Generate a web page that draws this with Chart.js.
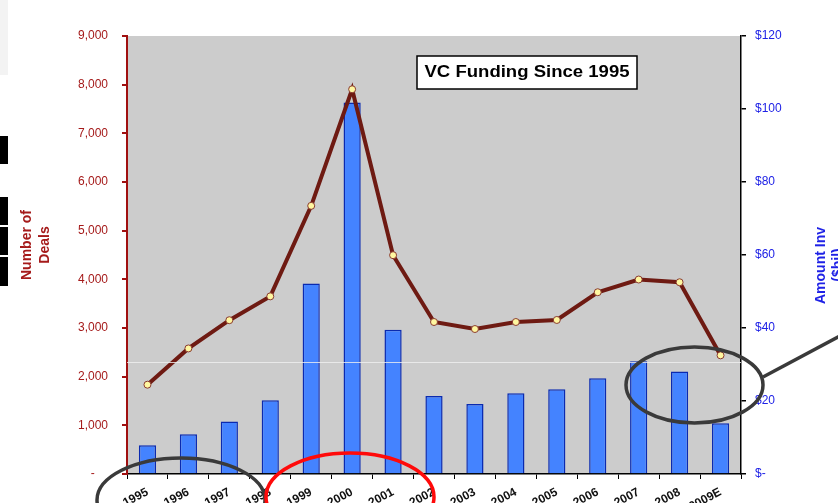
<!DOCTYPE html>
<html>
<head>
<meta charset="utf-8">
<script src="https://cdn.jsdelivr.net/npm/chart.js@4"></script>
<style>
html,body{margin:0;padding:0;background:#ffffff;}
#wrap{width:838px;height:503px;position:relative;}
</style>
</head>
<body>
<div id="wrap"><canvas id="c"></canvas></div>
<script>
// ---- data ----
const years = ['1995','1996','1997','1998','1999','2000','2001','2002','2003','2004','2005','2006','2007','2008','2009E'];
const dealCounts = [1835, 2580, 3160, 3650, 5510, 7905, 4496, 3123, 2979, 3123, 3165, 3735, 3996, 3940, 2438];
const amountInvested = [7.9, 10.9, 14.4, 20.2, 52.2, 101.8, 39.5, 21.4, 19.2, 22.1, 23.2, 26.2, 30.9, 28.1, 13.9];
const dealTickLabels = ['-    ','1,000','2,000','3,000','4,000','5,000','6,000','7,000','8,000','9,000'];
const amountTickLabels = ['$-','$20','$40','$60','$80','$100','$120'];
const chartTitle = 'VC Funding Since 1995';
const leftTitle = ['Number of','Deals'];
const rightTitle = ['Amount Inv','($bil)'];

const FONT = '"Liberation Sans", Arial, sans-serif';
const RED = '#a51a1a';
const BLUE = '#1f22e6';

const decor = {
  id: 'decor',
  beforeDraw(chart) {
    const {ctx, chartArea: a} = chart;
    ctx.save();
    ctx.fillStyle = '#cccccc';
    ctx.fillRect(a.left, a.top, a.right - a.left, a.bottom - a.top);
    ctx.restore();
  },
  afterDatasetsDraw(chart) {
    const {ctx, chartArea: a} = chart;
    ctx.save();
    ctx.strokeStyle = 'rgba(240,240,240,0.8)';
    ctx.lineWidth = 1;
    ctx.beginPath(); ctx.moveTo(a.left, 362.5); ctx.lineTo(a.right, 362.5); ctx.stroke();
    ctx.restore();
  },
  afterDraw(chart) {
    const {ctx} = chart;
    ctx.save();
    // title box
    ctx.fillStyle = '#ffffff';
    ctx.fillRect(417, 56, 220, 33);
    ctx.strokeStyle = '#000';
    ctx.lineWidth = 1.5;
    ctx.strokeRect(417, 56, 220, 33);
    ctx.fillStyle = '#000';
    ctx.font = 'bold 16px ' + FONT;
    ctx.textBaseline = 'middle';
    ctx.textAlign = 'center';
    const w = ctx.measureText(chartTitle).width;
    ctx.save();
    ctx.translate(527, 73);
    ctx.scale(205 / w, 1);
    ctx.fillText(chartTitle, 0, 0);
    ctx.restore();

    // left axis title
    ctx.fillStyle = RED;
    ctx.font = 'bold 14px ' + FONT;
    ctx.textAlign = 'center';
    ctx.save(); ctx.translate(27, 245); ctx.rotate(-Math.PI / 2); ctx.fillText(leftTitle[0], 0, 0); ctx.restore();
    ctx.save(); ctx.translate(45, 245); ctx.rotate(-Math.PI / 2); ctx.fillText(leftTitle[1], 0, 0); ctx.restore();

    // right axis title (cut by the image edge)
    ctx.fillStyle = BLUE;
    ctx.textAlign = 'left';
    ctx.save(); ctx.translate(821, 304); ctx.rotate(-Math.PI / 2); ctx.fillText(rightTitle[0], 0, 0); ctx.restore();
    ctx.textAlign = 'center';
    ctx.save(); ctx.translate(838, 265); ctx.rotate(-Math.PI / 2); ctx.fillText(rightTitle[1], 0, 0); ctx.restore();

    // annotation ellipses
    ctx.lineWidth = 3.5;
    ctx.strokeStyle = '#3a3a3a';
    ctx.beginPath(); ctx.ellipse(181, 500, 84, 42, 0, 0, Math.PI * 2); ctx.stroke();
    ctx.strokeStyle = '#ff0a0a';
    ctx.beginPath(); ctx.ellipse(350, 497, 84, 44, 0, 0, Math.PI * 2); ctx.stroke();
    ctx.strokeStyle = '#3a3a3a';
    ctx.beginPath(); ctx.ellipse(694.5, 385, 68.5, 38, 0, 0, Math.PI * 2); ctx.stroke();
    ctx.beginPath(); ctx.moveTo(763, 377); ctx.lineTo(840, 336); ctx.stroke();

    // screenshot edge artifacts at the left
    ctx.fillStyle = '#000';
    ctx.fillRect(0, 136, 8, 28);
    ctx.fillRect(0, 197, 8, 28);
    ctx.fillRect(0, 227, 8, 28);
    ctx.fillRect(0, 257, 8, 29);
    ctx.fillStyle = '#f3f3f3';
    ctx.fillRect(0, 0, 8, 75);
    ctx.restore();
  }
};

new Chart(document.getElementById('c'), {
  type: 'bar',
  data: {
    labels: years,
    datasets: [
      {
        type: 'line',
        label: 'Number of Deals',
        data: dealCounts,
        yAxisID: 'y',
        order: 0,
        borderColor: '#6e1a12',
        borderWidth: 4,
        tension: 0,
        pointRadius: 3.5,
        pointBackgroundColor: '#fff7a0',
        pointBorderColor: '#8a3a30',
        pointBorderWidth: 1
      },
      {
        type: 'bar',
        label: 'Amount Invested',
        data: amountInvested,
        yAxisID: 'y1',
        order: 1,
        backgroundColor: '#4483ff',
        borderColor: '#0a2ab0',
        borderWidth: 1.5,
        barPercentage: 0.42,
        categoryPercentage: 1.0
      }
    ]
  },
  options: {
    responsive: true,
    maintainAspectRatio: false,
    animation: false,
    layout: { padding: { top: 36, left: 0, right: 0, bottom: 0 } },
    plugins: { legend: { display: false }, tooltip: { enabled: false }, title: { display: false } },
    scales: {
      x: {
        type: 'category',
        offset: true,
        grid: { offset: true, drawOnChartArea: false, drawTicks: true, tickLength: 5, color: '#000', lineWidth: 1 },
        border: { color: '#000', width: 1.5 },
        ticks: { autoSkip: false, minRotation: 28, maxRotation: 28, padding: 6, color: '#111', font: { family: FONT, size: 12, weight: 'bold' } },
        afterFit(s) { s.height = 29; }
      },
      y: {
        position: 'left',
        min: 0, max: 9000,
        ticks: { stepSize: 1000, padding: 14, color: RED, font: { family: FONT, size: 12 },
          callback: (v, i) => dealTickLabels[i] },
        grid: { drawOnChartArea: false, drawTicks: true, tickLength: 5, color: '#a01010', lineWidth: 2 },
        border: { color: '#a01010', width: 2 },
        afterFit(s) { s.width = 127; }
      },
      y1: {
        position: 'right',
        min: 0, max: 120,
        ticks: { stepSize: 20, padding: 9, color: BLUE, font: { family: FONT, size: 12 },
          callback: (v, i) => amountTickLabels[i] },
        grid: { drawOnChartArea: false, drawTicks: true, tickLength: 5, color: '#000', lineWidth: 1.5 },
        border: { color: '#000', width: 1.5 },
        afterFit(s) { s.width = 97; }
      }
    }
  },
  plugins: [decor]
});
</script>
</body>
</html>
